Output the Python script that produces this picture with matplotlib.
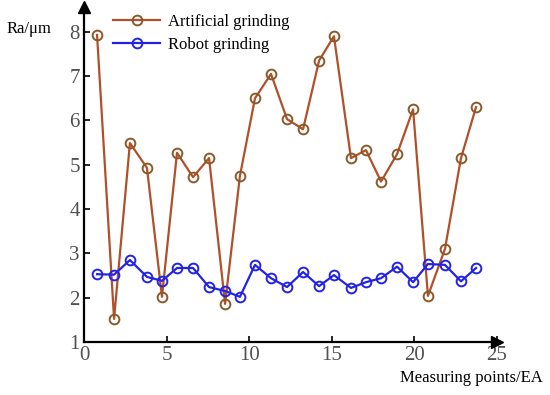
import matplotlib
matplotlib.use("Agg")
import matplotlib.pyplot as plt

x_points = [0.79, 1.82, 2.78, 3.81, 4.72, 5.63, 6.60, 7.57, 8.54, 9.44, 10.35, 11.32,
            12.29, 13.26, 14.23, 15.13, 16.16, 17.07, 17.98, 18.95, 19.92, 20.82,
            21.85, 22.82, 23.73]
artificial = [7.93, 1.52, 5.49, 4.93, 2.02, 5.27, 4.72, 5.15, 1.86, 4.75, 6.50, 7.05,
              6.03, 5.80, 7.35, 7.90, 5.15, 5.33, 4.62, 5.24, 6.25, 2.04, 3.10, 5.15, 6.30]
robot = [2.53, 2.52, 2.85, 2.47, 2.38, 2.67, 2.67, 2.24, 2.15, 2.02, 2.74, 2.44,
         2.24, 2.58, 2.26, 2.51, 2.22, 2.35, 2.44, 2.70, 2.35, 2.76, 2.74, 2.37, 2.67]
x_ticks = [0, 5, 10, 15, 20, 25]
y_ticks = [1, 2, 3, 4, 5, 6, 7, 8]

plt.rcParams['font.family'] = ['Liberation Serif', 'DejaVu Serif']

fig = plt.figure(figsize=(5.5, 3.95), dpi=100)
ax = fig.add_axes([84/550, 1-342/395, (497-84)/550, (342-7)/395])

ax.plot(x_points, artificial, '-o', color='#b0502a', lw=1.6, ms=7,
        mfc='none', mec='#8a5a28', mew=1.4, label='Artificial grinding')
ax.plot(x_points, robot, '-o', color='#2424e0', lw=1.6, ms=7,
        mfc='none', mec='#2424e0', mew=1.4, label='Robot grinding')

ax.set_xlim(0, 25)
ax.set_ylim(1, 8.56)
ax.set_xticks(x_ticks)
ax.set_yticks(y_ticks)
ax.tick_params(direction='in', length=4, width=1.2, labelsize=15, labelcolor='#505050', pad=3)
for s in ['top', 'right']:
    ax.spines[s].set_visible(False)
for s in ['left', 'bottom']:
    ax.spines[s].set_linewidth(1.6)

ax.plot(1, 0, '>k', ms=8, transform=ax.transAxes, clip_on=False)
ax.plot(0, 1, '^k', ms=8, transform=ax.transAxes, clip_on=False)

leg = ax.legend(loc='upper left', bbox_to_anchor=(0.035, 1.025), frameon=False,
                fontsize=12, handlelength=2.8, handletextpad=0.5, labelspacing=0.45)

fig.text(7/550, 1-29/395, 'Ra/μm', fontsize=12, va='center', ha='left')
fig.text(543/550, 1-378/395, 'Measuring points/EA', fontsize=12, va='center', ha='right')

fig.savefig('out.png', dpi=100)
